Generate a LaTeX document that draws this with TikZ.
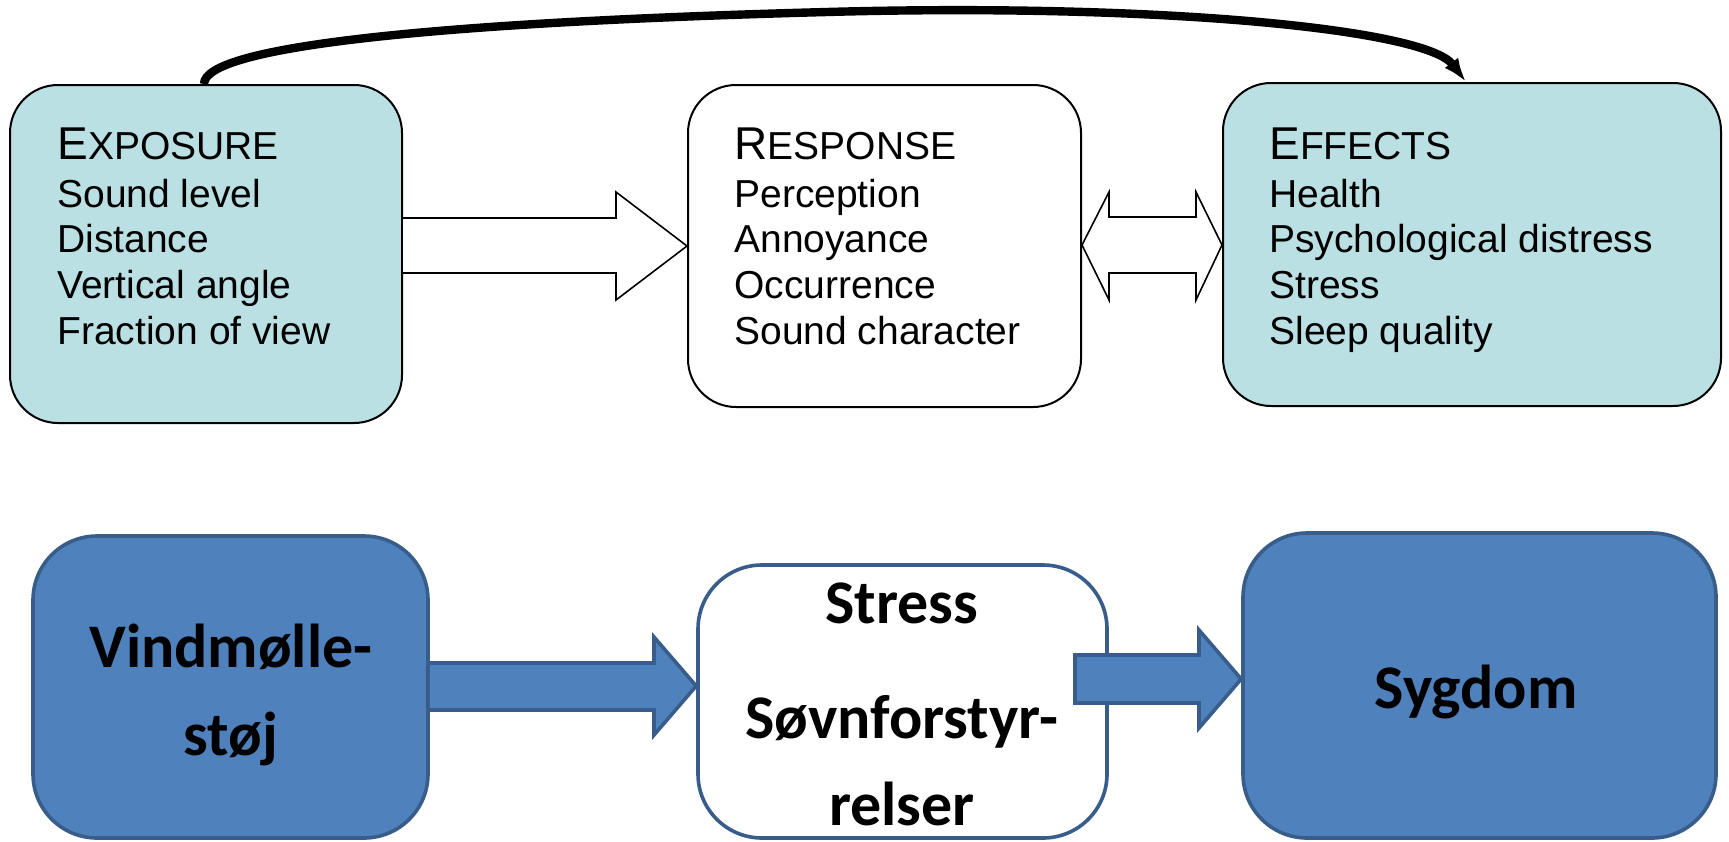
\documentclass[tikz,border=0pt]{standalone}
\usepackage{fontspec}
\setmainfont{Liberation Sans}
\newfontfamily\calibrifont{Carlito}
\usetikzlibrary{arrows.meta,calc}
\definecolor{lightcyan}{RGB}{187,224,227}
\definecolor{officeblue}{RGB}{79,129,189}
\definecolor{officeedge}{RGB}{56,93,138}
\begin{document}
\begin{tikzpicture}[x=0.5pt,y=-0.5pt,
  topbox/.style={draw=black, line width=1pt, rounded corners=24pt, inner sep=0pt},
  botbox/.style={draw=officeedge, line width=1.8pt, rounded corners=32pt, inner sep=0pt},
  txtline/.style={anchor=base west, inner sep=0pt, font=\fontsize{19.5}{23}\selectfont},
  bigtxt/.style={anchor=base, inner sep=0pt, font=\calibrifont\bfseries\fontsize{31}{37}\selectfont},
  hollow/.style={draw=black, line width=0.8pt, fill=white, line join=miter},
  blockarrow/.style={draw=officeedge, line width=1.8pt, fill=officeblue, line join=miter},
]
\useasboundingbox (0,0) rectangle (1729,841);

% top boxes
\node[topbox, fill=lightcyan, minimum width=196pt, minimum height=169pt] (exp) at (206,254) {};
\node[topbox, fill=white, minimum width=196.5pt, minimum height=161pt] (resp) at (884.5,246) {};
\node[topbox, fill=lightcyan, minimum width=249pt, minimum height=161.5pt] (eff) at (1472,244.5) {};

% exposure text
\node[txtline] (exp0) at (57,159) {{\fontsize{23}{23}\selectfont E}XPOSURE};
\node[txtline] (exp1) at (57,207) {Sound level};
\node[txtline] (exp2) at (57,252) {Distance};
\node[txtline] (exp3) at (57,298) {Vertical angle};
\node[txtline] (exp4) at (57,344) {Fraction of view};

% response text
\node[txtline] (resp0) at (734,159) {{\fontsize{23}{23}\selectfont R}ESPONSE};
\node[txtline] (resp1) at (734,207) {Perception};
\node[txtline] (resp2) at (734,252) {Annoyance};
\node[txtline] (resp3) at (734,298) {Occurrence};
\node[txtline] (resp4) at (734,344) {Sound character};

% effects text
\node[txtline] (eff0) at (1269,159) {{\fontsize{23}{23}\selectfont E}FFECTS};
\node[txtline] (eff1) at (1269,207) {Health};
\node[txtline] (eff2) at (1269,252) {Psychological distress};
\node[txtline] (eff3) at (1269,298) {Stress};
\node[txtline] (eff4) at (1269,344) {Sleep quality};

% hollow arrow exposure -> response
\draw[hollow] (exp.east |- 0,218) -- (616,218) -- (616,192) -- (resp.west |- 0,246)
  -- (616,300) -- (616,273) -- (exp.east |- 0,273);

% hollow double arrow response <-> effects
\draw[hollow] (resp.east |- 0,245) -- (1109,192) -- (1109,217) -- (1196,217) -- (1196,192)
  -- (eff.west |- 0,245) -- (1196,300) -- (1196,273) -- (1109,273) -- (1109,300) -- cycle;

% curved arrow exposure -> effects
\draw[line width=4.2pt, -{Latex[length=12pt,width=8.5pt]}]
  ([xshift=-1pt]exp.north) .. controls (204,45) and (450,22) .. (827,12)
  .. controls (1150,3) and (1425,28) .. ([xshift=-3pt]eff.north);

% bottom boxes
\node[botbox, fill=officeblue, minimum width=197.5pt, minimum height=151pt] (vind) at (230.5,687) {};
\node[botbox, fill=white, minimum width=204.5pt, minimum height=136.5pt] (mid) at (902.5,701.5) {};
\node[botbox, fill=officeblue, minimum width=236.5pt, minimum height=152.5pt] (syg) at (1479.5,685.5) {};

% blue arrows
\draw[blockarrow] (vind.east |- 0,663) -- (654,663) -- (654,637) -- (mid.west |- 0,686)
  -- (654,735) -- (654,710) -- (vind.east |- 0,710);
\draw[blockarrow] (1075,655) -- (1199,655) -- (1199,630) -- (syg.west |- 0,679)
  -- (1199,728) -- (1199,703) -- (1075,703) -- cycle;

% bottom text
\node[bigtxt] (v1) at (231,667) {Vindmølle-};
\node[bigtxt] (v2) at (231,755) {støj};
\node[bigtxt] (m1) at (902,623) {Stress};
\node[bigtxt] (m2) at (902,738) {Søvnforstyr-};
\node[bigtxt] (m3) at (902,825) {relser};
\node[bigtxt] (s1) at (1476,708) {Sygdom};
\end{tikzpicture}
\end{document}
